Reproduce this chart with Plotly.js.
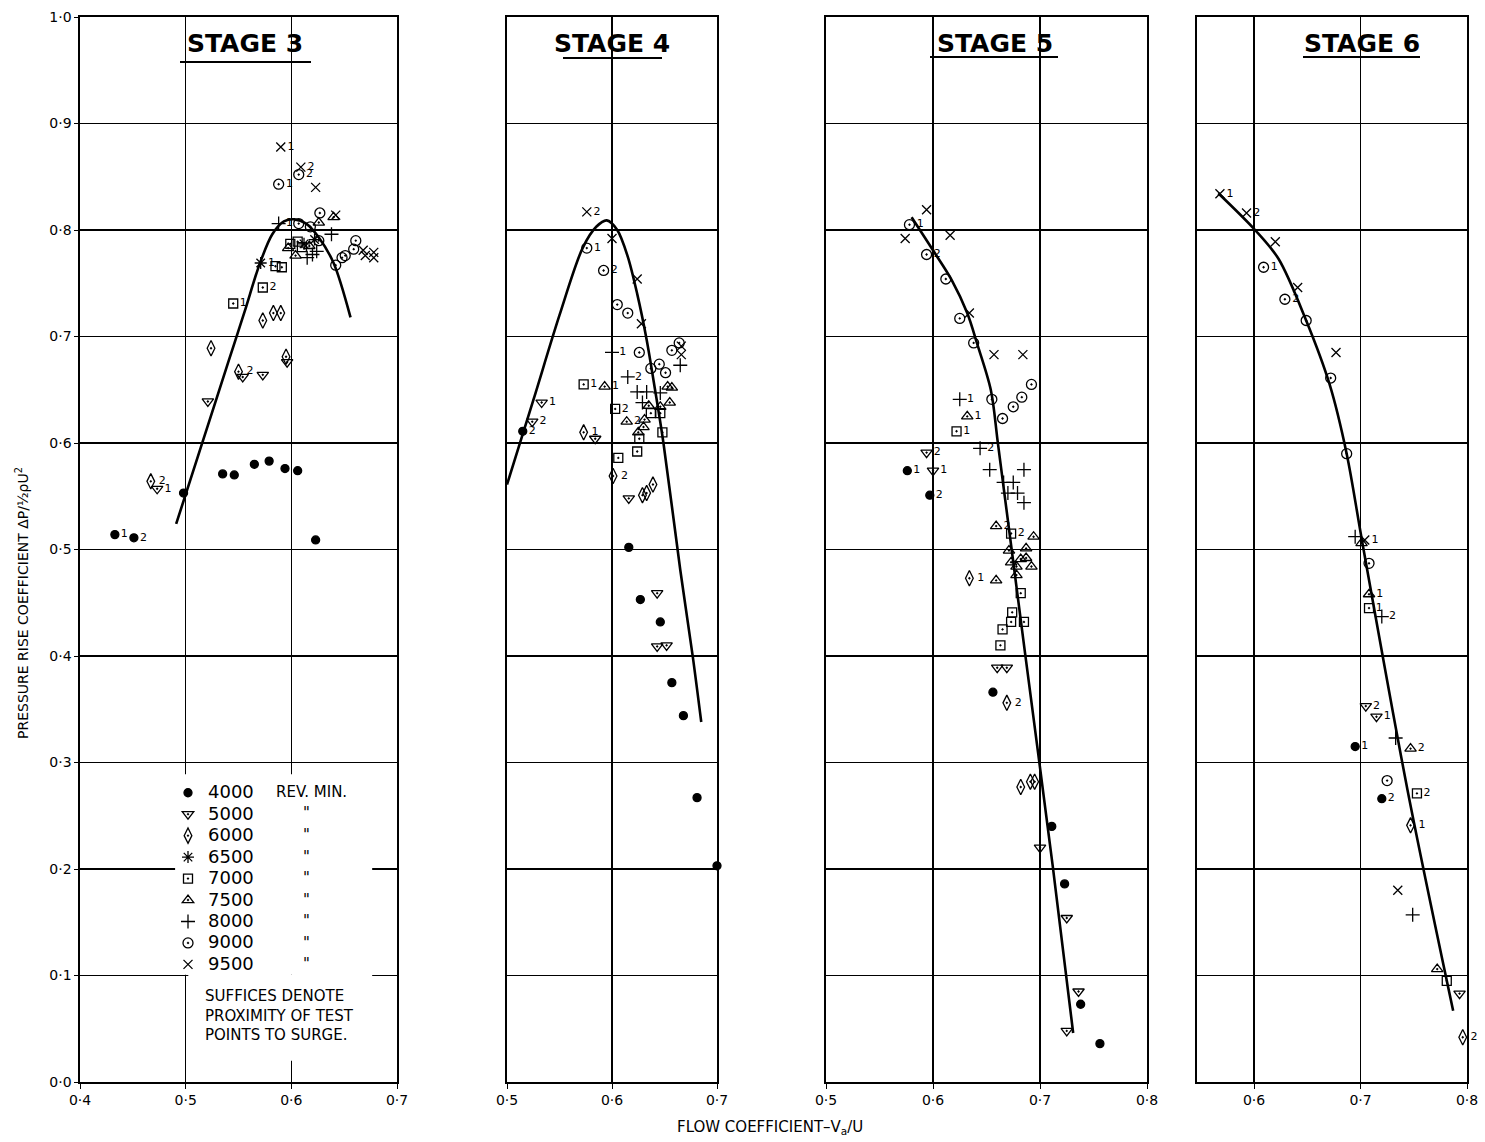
<!DOCTYPE html>
<html><head><meta charset="utf-8">
<script src="https://cdn.plot.ly/plotly-3.0.1.min.js"></script>
<style>html,body{margin:0;padding:0;background:#fff}</style>
</head><body><div id="chart" style="width:1485px;height:1142px"></div>
<script>
// ---------------- DATA ----------------
const speeds = [4000, 5000, 6000, 6500, 7000, 7500, 8000, 9000, 9500];
const stageNames = ["STAGE 3", "STAGE 4", "STAGE 5", "STAGE 6"];
const xTickValues = [[0.4,0.5,0.6,0.7],[0.5,0.6,0.7],[0.5,0.6,0.7,0.8],[0.6,0.7,0.8]];
const xTickLabels = [["0·4","0·5","0·6","0·7"],["0·5","0·6","0·7"],["0·5","0·6","0·7","0·8"],["0·6","0·7","0·8"]];
const yTickValues = [0,0.1,0.2,0.3,0.4,0.5,0.6,0.7,0.8,0.9,1.0];
const yTickLabels = ["0·0","0·1","0·2","0·3","0·4","0·5","0·6","0·7","0·8","0·9","1·0"];

// rows: [rev/min, flow coefficient, pressure rise coefficient, suffix]
const stage3Points = [
 [4000,0.433,0.514,"1"],[4000,0.451,0.511,"2"],[4000,0.498,0.553,""],[4000,0.535,0.571,""],
 [4000,0.546,0.570,""],[4000,0.565,0.580,""],[4000,0.579,0.583,""],[4000,0.594,0.576,""],
 [4000,0.606,0.574,""],[4000,0.623,0.509,""],
 [5000,0.473,0.557,"1"],[5000,0.521,0.639,""],[5000,0.554,0.662,""],[5000,0.573,0.664,""],[5000,0.596,0.676,""],
 [6000,0.467,0.564,"2"],[6000,0.524,0.689,""],[6000,0.550,0.667,"2"],[6000,0.573,0.715,""],
 [6000,0.583,0.722,""],[6000,0.590,0.722,""],[6000,0.595,0.681,""],
 [6500,0.571,0.769,"1"],[6500,0.612,0.787,""],[6500,0.622,0.791,""],
 [7000,0.545,0.731,"1"],[7000,0.573,0.746,"2"],[7000,0.585,0.766,""],[7000,0.591,0.765,""],
 [7000,0.599,0.787,""],[7000,0.606,0.789,""],[7000,0.610,0.784,""],
 [7500,0.597,0.783,""],[7500,0.604,0.776,""],[7500,0.626,0.807,""],[7500,0.640,0.812,""],[7500,0.617,0.785,""],
 [8000,0.588,0.806,"1"],[8000,0.615,0.774,""],[8000,0.620,0.777,""],[8000,0.624,0.780,""],[8000,0.638,0.796,""],
 [9000,0.588,0.843,"1"],[9000,0.607,0.852,"2"],[9000,0.627,0.816,""],[9000,0.607,0.806,""],
 [9000,0.618,0.803,""],[9000,0.626,0.790,""],[9000,0.642,0.767,""],[9000,0.648,0.774,""],
 [9000,0.651,0.776,""],[9000,0.659,0.782,""],[9000,0.661,0.790,""],
 [9500,0.590,0.878,"1"],[9500,0.609,0.859,"2"],[9500,0.623,0.840,""],[9500,0.642,0.814,""],
 [9500,0.668,0.781,""],[9500,0.678,0.779,""],[9500,0.670,0.776,""],[9500,0.678,0.774,""]
];
const stage4Points = [
 [4000,0.496,0.565,""],[4000,0.515,0.611,"2"],[4000,0.616,0.502,""],[4000,0.627,0.453,""],
 [4000,0.646,0.432,""],[4000,0.657,0.375,""],[4000,0.668,0.344,""],[4000,0.681,0.267,""],[4000,0.700,0.203,""],
 [5000,0.533,0.638,"1"],[5000,0.524,0.620,"2"],[5000,0.584,0.604,""],[5000,0.616,0.548,""],
 [5000,0.643,0.459,""],[5000,0.643,0.409,""],[5000,0.652,0.410,""],
 [6000,0.573,0.610,"1"],[6000,0.601,0.569,"2"],[6000,0.629,0.551,""],[6000,0.633,0.553,""],[6000,0.639,0.561,""],
 [7000,0.573,0.655,"1"],[7000,0.603,0.632,"2"],[7000,0.637,0.628,""],[7000,0.646,0.628,""],
 [7000,0.626,0.604,""],[7000,0.624,0.592,""],[7000,0.648,0.610,""],[7000,0.606,0.586,""],
 [7500,0.593,0.653,"1"],[7500,0.614,0.620,"2"],[7500,0.631,0.622,""],[7500,0.630,0.615,""],
 [7500,0.625,0.610,""],[7500,0.635,0.635,""],[7500,0.646,0.634,""],[7500,0.655,0.638,""],
 [7500,0.657,0.652,""],[7500,0.653,0.653,""],
 [8000,0.600,0.685,"1"],[8000,0.615,0.662,"2"],[8000,0.624,0.648,""],[8000,0.633,0.648,""],
 [8000,0.646,0.647,""],[8000,0.629,0.638,""],[8000,0.665,0.673,""],
 [9000,0.576,0.783,"1"],[9000,0.592,0.762,"2"],[9000,0.605,0.730,""],[9000,0.615,0.722,""],
 [9000,0.626,0.685,""],[9000,0.637,0.670,""],[9000,0.645,0.674,""],[9000,0.651,0.666,""],
 [9000,0.657,0.687,""],[9000,0.664,0.694,""],
 [9500,0.576,0.817,"2"],[9500,0.600,0.792,""],[9500,0.624,0.754,""],[9500,0.628,0.712,""],
 [9500,0.666,0.691,""],[9500,0.666,0.683,""]
];
const stage5Points = [
 [4000,0.576,0.574,"1"],[4000,0.597,0.551,"2"],[4000,0.656,0.366,""],[4000,0.711,0.240,""],
 [4000,0.723,0.186,""],[4000,0.738,0.073,""],[4000,0.756,0.036,""],
 [5000,0.594,0.591,"2"],[5000,0.600,0.574,"1"],[5000,0.660,0.389,""],[5000,0.669,0.389,""],
 [5000,0.700,0.220,""],[5000,0.725,0.154,""],[5000,0.736,0.085,""],[5000,0.725,0.048,""],
 [6000,0.634,0.473,"1"],[6000,0.669,0.356,"2"],[6000,0.682,0.277,""],[6000,0.691,0.282,""],[6000,0.695,0.282,""],
 [7000,0.622,0.611,"1"],[7000,0.673,0.515,"2"],[7000,0.682,0.459,""],[7000,0.674,0.441,""],
 [7000,0.673,0.432,""],[7000,0.685,0.432,""],[7000,0.665,0.425,""],[7000,0.663,0.410,""],
 [7500,0.632,0.625,"1"],[7500,0.659,0.522,"2"],[7500,0.694,0.512,""],[7500,0.687,0.501,""],
 [7500,0.671,0.499,""],[7500,0.673,0.488,""],[7500,0.682,0.491,""],[7500,0.687,0.492,""],
 [7500,0.692,0.484,""],[7500,0.678,0.484,""],[7500,0.678,0.476,""],[7500,0.659,0.471,""],
 [8000,0.625,0.641,"1"],[8000,0.644,0.595,"2"],[8000,0.653,0.575,""],[8000,0.685,0.575,""],
 [8000,0.666,0.563,""],[8000,0.675,0.563,""],[8000,0.670,0.553,""],[8000,0.679,0.553,""],[8000,0.685,0.544,""],
 [9000,0.578,0.805,"1"],[9000,0.594,0.777,"2"],[9000,0.612,0.754,""],[9000,0.625,0.717,""],
 [9000,0.638,0.694,""],[9000,0.655,0.641,""],[9000,0.665,0.623,""],[9000,0.675,0.634,""],
 [9000,0.683,0.643,""],[9000,0.692,0.655,""],
 [9500,0.594,0.819,""],[9500,0.574,0.792,""],[9500,0.616,0.795,""],[9500,0.634,0.722,""],
 [9500,0.657,0.683,""],[9500,0.684,0.683,""]
];
const stage6Points = [
 [4000,0.695,0.315,"1"],[4000,0.720,0.266,"2"],
 [5000,0.705,0.353,"2"],[5000,0.715,0.343,"1"],[5000,0.793,0.083,""],
 [6000,0.747,0.241,"1"],[6000,0.796,0.042,"2"],
 [7000,0.708,0.445,"1"],[7000,0.753,0.271,"2"],[7000,0.781,0.095,""],
 [7500,0.708,0.458,"1"],[7500,0.747,0.313,"2"],[7500,0.772,0.106,""],[7500,0.701,0.506,""],
 [8000,0.695,0.512,""],[8000,0.720,0.437,"2"],[8000,0.733,0.323,""],[8000,0.749,0.157,""],
 [9000,0.609,0.765,"1"],[9000,0.629,0.735,"2"],[9000,0.649,0.715,""],[9000,0.672,0.661,""],
 [9000,0.687,0.590,""],[9000,0.708,0.487,""],[9000,0.725,0.283,""],
 [9500,0.568,0.834,"1"],[9500,0.593,0.816,"2"],[9500,0.620,0.789,""],[9500,0.641,0.746,""],
 [9500,0.677,0.685,""],[9500,0.735,0.180,""],[9500,0.704,0.509,"1"]
];

// faired curves
const stage3CurveX = [0.491,0.516,0.540,0.556,0.570,0.582,0.593,0.603,0.614,0.626,0.640,0.656];
const stage3CurveY = [0.524,0.601,0.675,0.724,0.768,0.796,0.808,0.810,0.806,0.793,0.769,0.718];
const stage4CurveX = [0.500,0.525,0.550,0.572,0.585,0.595,0.605,0.615,0.624,0.633,0.641,0.649,0.665,0.677,0.685];
const stage4CurveY = [0.561,0.640,0.720,0.783,0.803,0.809,0.800,0.775,0.740,0.697,0.650,0.600,0.481,0.399,0.338];
const stage5CurveX = [0.580,0.600,0.6175,0.632,0.641,0.654,0.661,0.686,0.712,0.731];
const stage5CurveY = [0.812,0.781,0.753,0.722,0.694,0.650,0.597,0.403,0.202,0.046];
const stage6CurveX = [0.5665,0.601,0.623,0.649,0.671,0.687,0.702,0.744,0.787];
const stage6CurveY = [0.8345,0.800,0.773,0.715,0.655,0.590,0.505,0.275,0.067];

const legendNote = "SUFFICES DENOTE<br>PROXIMITY OF TEST<br>POINTS TO SURGE.";
const legendUnit = "REV. MIN.";
const dittoMark = '"';

// ---------------- STYLE ----------------
const W = 1485, H = 1142;
const FONT = "DejaVu Sans, Liberation Sans, sans-serif";
const symbolFor = {4000:"circle",5000:"triangle-down-open-dot",6000:"diamond-tall-open-dot",6500:"asterisk-open",
  7000:"square-open-dot",7500:"triangle-up-open-dot",8000:"cross-thin-open",9000:"circle-open-dot",9500:"x-thin-open"};
const sizeFor = {4000:8,5000:10,6000:11,6500:10,7000:9,7500:10,8000:10,9000:10,9500:9};
const panelPx = [[80,397],[507,717],[826,1147],[1197,1467]];
const xRanges = [[0.4,0.7],[0.5,0.7],[0.5,0.8],[0.8-270/1065,0.8]];
const topPx = 17, botPx = 1082;
const legendRowPx = 21.5, legendTopRowPx = 792;

const allPoints = [stage3Points, stage4Points, stage5Points, stage6Points];
const curvesX = [stage3CurveX, stage4CurveX, stage5CurveX, stage6CurveX];
const curvesY = [stage3CurveY, stage4CurveY, stage5CurveY, stage6CurveY];

const traces = [];
const layout = {
  width: W, height: H, margin:{l:0,r:0,t:0,b:0},
  paper_bgcolor:"#fff", plot_bgcolor:"#fff",
  font:{family:FONT, color:"#000", size:14},
  showlegend:true,
  legend:{x:168/W, y:1-(legendTopRowPx-15)/H, xanchor:"left", yanchor:"top", bgcolor:"rgba(0,0,0,0)",
    font:{family:FONT, size:14.2, color:"#000"}, itemsizing:"trace", itemwidth:30, tracegroupgap:0},
  annotations:[], shapes:[]
};

for (let s=0; s<4; s++) {
  const xa = s===0 ? "x" : "x"+(s+1);
  const ya = s===0 ? "y" : "y"+(s+1);
  const xKey = s===0 ? "xaxis" : "xaxis"+(s+1);
  const yKey = s===0 ? "yaxis" : "yaxis"+(s+1);
  layout[xKey] = {
    domain:[panelPx[s][0]/W, panelPx[s][1]/W], anchor: ya, range: xRanges[s],
    tickmode:"array", tickvals: xTickValues[s], ticktext: xTickLabels[s],
    showgrid:true, gridcolor:"#000", gridwidth:1.3, zeroline:false,
    showline:true, linecolor:"#000", linewidth:1.6, mirror:true,
    ticks:"outside", ticklen:5, tickcolor:"#000", tickfont:{family:FONT,size:14}, automargin:false
  };
  layout[yKey] = {
    domain:[1-botPx/H, 1-topPx/H], anchor: xa, range:[0,1.0],
    tickmode:"array", tickvals: yTickValues, ticktext: yTickLabels, showticklabels: s===0,
    showgrid:true, gridcolor:"#000", gridwidth:1.3, zeroline:false,
    showline:true, linecolor:"#000", linewidth:1.6, mirror:true,
    ticks: s===0 ? "outside" : "", ticklen:4, tickcolor:"#000", tickfont:{family:FONT,size:14}, automargin:false
  };
  traces.push({type:"scatter", mode:"lines", x:curvesX[s], y:curvesY[s], xaxis:xa, yaxis:ya,
    line:{color:"#000", width:2.6, shape:"spline", smoothing:0.9}, showlegend:false, hoverinfo:"skip"});
  speeds.forEach(sp => {
    const rows = allPoints[s].filter(r => r[0]===sp);
    if (!rows.length && s>0) return;
    traces.push({type:"scatter", mode:"markers+text",
      name:"<span style='font-size:18px'>"+sp+"</span>",
      x: rows.map(r=>r[1]), y: rows.map(r=>r[2]), text: rows.map(r=>r[3]),
      textposition:"middle right", textfont:{family:FONT, size:11, color:"#000"},
      xaxis:xa, yaxis:ya, showlegend: s===0, cliponaxis:false,
      marker:{symbol:symbolFor[sp], size:sizeFor[sp], color:"#000", line:{color:"#000", width:1.3}}});
  });
  const cx = [245,612,995,1362][s];
  layout.annotations.push({xref:"paper", yref:"paper", x:cx/W, y:1-44/H, xanchor:"center", yanchor:"middle",
    showarrow:false, text:"<b>"+stageNames[s]+"</b>", font:{family:FONT, size:25, color:"#000"}});
}
[[180,311,62],[563,662,58],[930,1058,57],[1303,1420,57]].forEach(u => {
  layout.shapes.push({type:"line", xref:"paper", yref:"paper", x0:u[0]/W, x1:u[1]/W, y0:1-u[2]/H, y1:1-u[2]/H,
    line:{color:"#000", width:2}});
});
layout.shapes.push({type:"rect", xref:"x", yref:"y", x0:0.49, x1:0.6765, y0:0.1006, y1:0.289,
  fillcolor:"#fff", line:{width:0}, layer:"between"});
layout.shapes.push({type:"rect", xref:"x", yref:"y", x0:0.5025, x1:0.6765, y0:0.02, y1:0.1006,
  fillcolor:"#fff", line:{width:0}, layer:"between"});
layout.annotations.push({xref:"paper", yref:"paper", x:274/W, y:1-legendTopRowPx/H, xanchor:"left", yanchor:"middle",
  showarrow:false, text:legendUnit, font:{family:FONT, size:15, color:"#000"}});
for (let i=1; i<speeds.length; i++) {
  layout.annotations.push({xref:"paper", yref:"paper", x:306/W, y:1-(legendTopRowPx+legendRowPx*i)/H,
    xanchor:"center", yanchor:"middle", showarrow:false, text:dittoMark, font:{family:FONT, size:15, color:"#000"}});
}
layout.annotations.push({xref:"paper", yref:"paper", x:203/W, y:1-1015/H, xanchor:"left", yanchor:"middle",
  align:"left", showarrow:false, text:legendNote, font:{family:FONT, size:15, color:"#000"}});
layout.annotations.push({xref:"paper", yref:"paper", x:22/W, y:1-603/H, xanchor:"center", yanchor:"middle",
  textangle:-90, showarrow:false,
  text:"PRESSURE RISE COEFFICIENT ΔP/½ρU<sup>2</sup>", font:{family:FONT, size:14, color:"#000"}});
layout.annotations.push({xref:"paper", yref:"paper", x:770/W, y:1-1127/H, xanchor:"center", yanchor:"middle",
  showarrow:false, text:"FLOW COEFFICIENT–V<sub>a</sub>/U", font:{family:FONT, size:15, color:"#000"}});

Plotly.newPlot("chart", traces, layout, {staticPlot:true, displayModeBar:false});
</script>
</body></html>
